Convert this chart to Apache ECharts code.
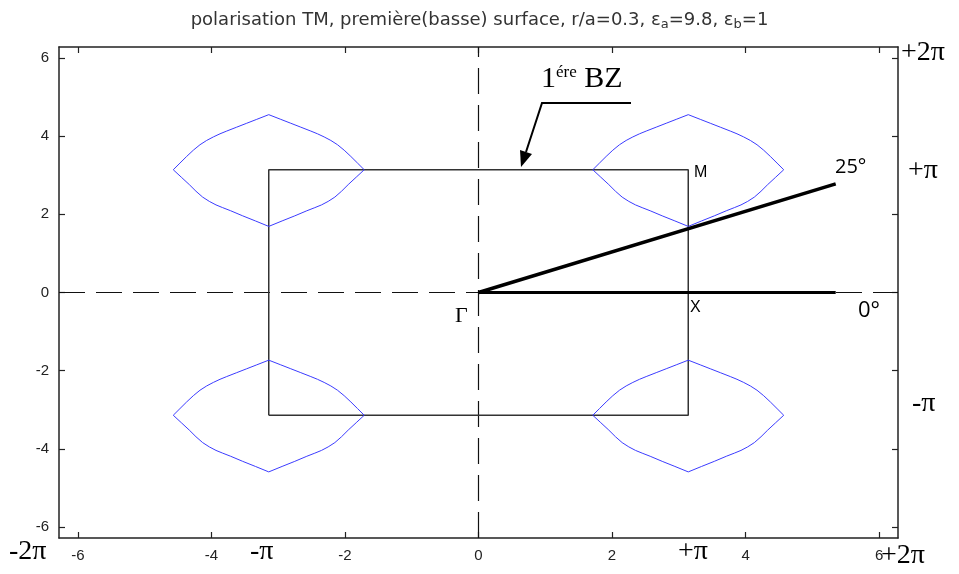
<!DOCTYPE html>
<html>
<head>
<meta charset="utf-8">
<script src="https://cdn.jsdelivr.net/npm/echarts@6/dist/echarts.min.js"></script>
<style>
  html, body { margin: 0; padding: 0; background: #fff; }
  #chart { width: 959px; height: 574px; }
</style>
</head>
<body>
<div id="chart"></div>
<script>
const PI = Math.PI;

// tick values shown on both axes
const tickValues = [-6, -4, -2, 0, 2, 4, 6];

// one iso-frequency contour, relative to its centre
const contourDx = [-1.43, -1.33, -1.23, -1.13, -1.03, -0.93, -0.83, -0.73, -0.63, -0.48, -0.33, -0.18, 0,
                   0.18, 0.33, 0.48, 0.63, 0.73, 0.83, 0.93, 1.03, 1.13, 1.23, 1.33, 1.43,
                   1.31, 1.19, 1.09, 0.99, 0.89, 0.79, 0.69, 0.57, 0.39, 0.2, 0,
                   -0.2, -0.39, -0.57, -0.69, -0.79, -0.89, -0.99, -1.09, -1.19, -1.31, -1.43];
const contourDy = [0, 0.17, 0.34, 0.5, 0.64, 0.75, 0.84, 0.92, 0.99, 1.09, 1.19, 1.29, 1.41,
                   1.29, 1.19, 1.09, 0.99, 0.92, 0.84, 0.75, 0.64, 0.5, 0.34, 0.17, 0,
                   -0.19, -0.38, -0.55, -0.7, -0.81, -0.9, -0.97, -1.05, -1.18, -1.31, -1.45,
                   -1.31, -1.18, -1.05, -0.97, -0.9, -0.81, -0.7, -0.55, -0.38, -0.19, 0];
// contour centres (corners of the 1st Brillouin zone)
const contourCx = [-PI, PI, -PI, PI];
const contourCy = [PI, PI, -PI, -PI];

// first Brillouin zone outline
const bzX = [-PI, PI, PI, -PI, -PI];
const bzY = [-PI, -PI, PI, PI, -PI];

// direction lines from Gamma
const dir0X = [0, 5.35];
const dir0Y = [0, 0];
const dir25X = [0, 5.35];
const dir25Y = [0, 2.78];

const zip = (xs, ys) => xs.map((x, i) => [x, ys[i]]);

const lineSeries = (data, color, width, type, z) => ({
  type: 'line',
  data: data,
  showSymbol: false,
  silent: true,
  animation: false,
  lineStyle: { color: color, width: width, type: type },
  z: z
});

const initChart = () => {
  const chart = echarts.init(document.getElementById('chart'));

  const series = [
    lineSeries([[-2 * PI, 0], [2 * PI, 0]], '#111', 1.2, [26, 11], 1),
    lineSeries([[0, -2 * PI], [0, 2 * PI]], '#111', 1.2, [26, 11], 1),
    lineSeries(zip(bzX, bzY), '#333', 1.5, 'solid', 2)
  ];
  contourCx.forEach((cx, k) => {
    const pts = contourDx.map((dx, i) => [cx + dx, contourCy[k] + contourDy[i]]);
    series.push(lineSeries(pts, '#3b3bff', 1, 'solid', 3));
  });
  series.push(lineSeries(zip(dir0X, dir0Y), '#000', 3, 'solid', 4));
  series.push(lineSeries(zip(dir25X, dir25Y), '#000', 3.5, 'solid', 4));

  const axisBase = {
    type: 'value',
    min: -2 * PI,
    max: 2 * PI,
    axisLine: { show: true, onZero: false, lineStyle: { color: '#222', width: 1.5 } },
    axisTick: { show: true, inside: true, length: 6, customValues: tickValues, lineStyle: { color: '#222', width: 1.2 } },
    splitLine: { show: false }
  };
  const labelStyle = { customValues: tickValues, color: '#222', fontSize: 15, fontFamily: 'Liberation Sans' };

  const serif = 'Liberation Serif';
  const sans = 'Liberation Sans';
  const txt = (x, y, text, size, family) => ({
    type: 'text', x: x, y: y, silent: true,
    style: { text: text, fontSize: size, fontFamily: family, fill: '#000' }
  });

  chart.setOption({
    animation: false,
    title: {
      left: 'center',
      top: 4,
      text: '{t|polarisation TM, première(basse) surface, r/a=0.3, ε}{s|a}{t|=9.8, ε}{s|b}{t|=1}',
      textStyle: {
        rich: {
          t: { fontSize: 18, fontWeight: 'normal', fontFamily: 'DejaVu Sans', color: '#333' },
          s: { fontSize: 13, fontWeight: 'normal', fontFamily: 'DejaVu Sans', color: '#333', verticalAlign: 'bottom', padding: [9, 0, 0, 0] }
        }
      }
    },
    grid: { left: 59, right: 61, top: 47, bottom: 36 },
    xAxis: [
      Object.assign({}, axisBase, { position: 'bottom', axisLabel: Object.assign({ margin: 10 }, labelStyle) }),
      Object.assign({}, axisBase, { position: 'top', axisLabel: { show: false } })
    ],
    yAxis: [
      Object.assign({}, axisBase, { position: 'left', axisLabel: Object.assign({ margin: 10 }, labelStyle) }),
      Object.assign({}, axisBase, { position: 'right', axisLabel: { show: false } })
    ],
    series: series,
    graphic: [
      // 1st BZ annotation with arrow
      {
        type: 'text', x: 541, y: 64, silent: true,
        style: {
          text: '{n|1}{s|ére}{n| BZ}',
          rich: {
            n: { fontSize: 30, fontFamily: serif, fill: '#000' },
            s: { fontSize: 17, fontFamily: serif, fill: '#000', verticalAlign: 'top' }
          }
        }
      },
      { type: 'polyline', silent: true, shape: { points: [[631, 103], [542, 103], [526, 152]] }, style: { stroke: '#000', lineWidth: 2, fill: null } },
      { type: 'polygon', silent: true, shape: { points: [[521, 167], [532, 154], [520, 150]] }, style: { fill: '#000' } },
      // point labels
      txt(694, 165, 'M', 16, sans),
      txt(690, 300, 'X', 16, sans),
      txt(455, 305, 'Γ', 22, serif),
      txt(858, 300, '0°', 22, 'Open Sans'),
      txt(835, 157, '25°', 20, 'Open Sans'),
      // pi marks
      txt(901, 39, '+2π', 28, serif),
      txt(908, 157, '+π', 28, serif),
      txt(912, 390, '-π', 28, serif),
      txt(9, 538, '-2π', 28, serif),
      txt(250, 538, '-π', 28, serif),
      txt(678, 538, '+π', 28, serif),
      txt(881, 542, '+2π', 28, serif)
    ]
  });
};

window.addEventListener('load', () => {
  initChart();
});
</script>
</body>
</html>
